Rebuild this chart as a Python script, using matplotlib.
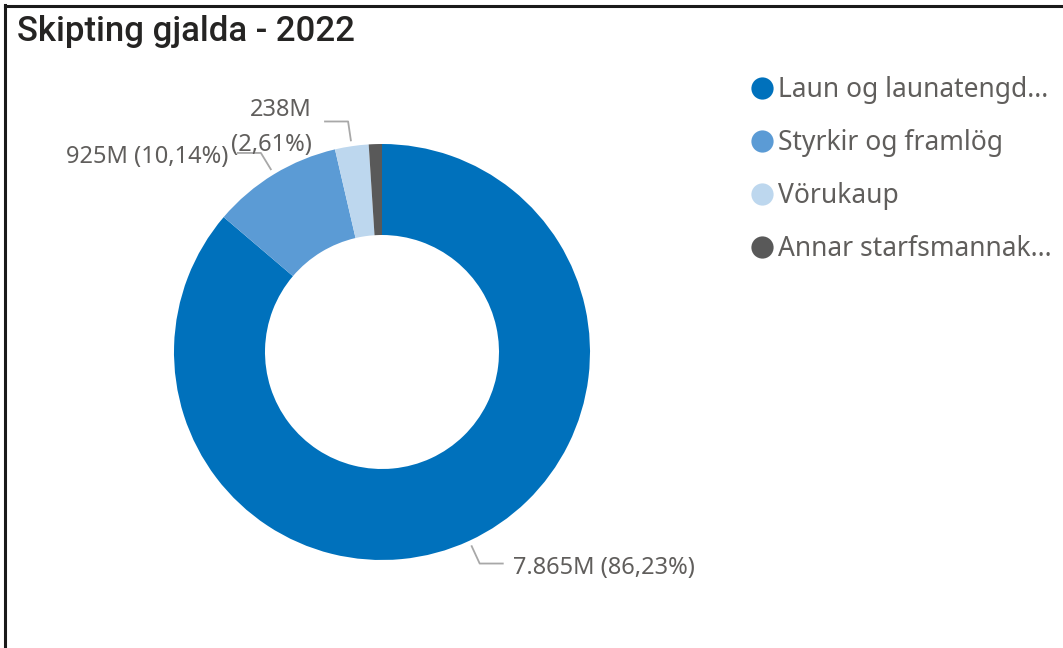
import numpy as np
import matplotlib
matplotlib.use("Agg")
import matplotlib.pyplot as plt
from matplotlib.lines import Line2D

# ---- data ----
categories = ["Laun og launatengd...", "Styrkir og framlög", "Vörukaup", "Annar starfsmannak..."]
values_m = [7865, 925, 238, 93]          # million
percent_labels = ["86,23%", "10,14%", "2,61%", None]
value_labels = ["7.865M", "925M", "238M", None]
colors = ["#0071BC", "#5B9BD5", "#BDD7EE", "#595959"]
title = "Skipting gjalda - 2022"

W, H = 1063, 648
fig = plt.figure(figsize=(W / 100, H / 100), dpi=100)
ax = fig.add_axes([0, 0, 1, 1])

cx, cy = 382, H - 352
R = 208
ring = 91

wedges, _ = ax.pie(values_m, colors=colors, startangle=90, counterclock=False,
                   radius=R, center=(cx, cy), frame=True,
                   wedgeprops=dict(width=ring, linewidth=0))
ax.set_xlim(0, W)
ax.set_ylim(0, H)
ax.set_aspect("equal")
ax.axis("off")

label_font = "Noto Sans"
txt_col = "#605E5C"
line_col = "#A8A8A8"
fs_label = 17

for w, vl, pl in zip(wedges, value_labels, percent_labels):
    if vl is None:
        continue
    ang = np.deg2rad((w.theta1 + w.theta2) / 2)
    x0, y0 = cx + 213 * np.cos(ang), cy + 213 * np.sin(ang)
    x1, y1 = cx + 233 * np.cos(ang), cy + 233 * np.sin(ang)
    side = 1 if np.cos(ang) > 0 else -1
    x2 = x1 + side * 24
    ax.plot([x0, x1, x2], [y0, y1, y1], color=line_col, lw=1.3, solid_capstyle="butt")
    if vl == "238M":
        s = f"{vl}\n({pl})"
        gap = 12
        dy = -6
    else:
        s = f"{vl} ({pl})"
        gap = 9
        dy = -4
    ax.text(x2 + side * gap, y1 + dy, s, ha="left" if side > 0 else "right",
            va="center", multialignment="right", fontsize=fs_label,
            color=txt_col, family=label_font, linespacing=1.6)

# title
fig.text(17 / W, 1 - 31 / H, title, ha="left", va="center", fontsize=25,
         color="#252423", family="Roboto", fontweight="medium")

# border (top and left)
fig.add_artist(Line2D([5 / W, 5 / W], [0, 1 - 5 / H], transform=fig.transFigure,
                      color="#1a1a1a", lw=2.2))
fig.add_artist(Line2D([5 / W, 1], [1 - 6 / H, 1 - 6 / H], transform=fig.transFigure,
                      color="#1a1a1a", lw=2.2))

# legend
fs_leg = 19
handles = [Line2D([], [], marker="o", linestyle="none", markersize=16,
                  markerfacecolor=c, markeredgewidth=0) for c in colors]
leg = ax.legend(handles, categories, loc="upper left",
                bbox_to_anchor=(749, H - 76), bbox_transform=ax.transData,
                frameon=False, borderpad=0, borderaxespad=0,
                handlelength=1.0, handletextpad=0.1, labelspacing=0.95,
                prop=dict(family=label_font, size=fs_leg))
for t in leg.get_texts():
    t.set_color(txt_col)

fig.savefig("out.png", dpi=100, facecolor="white")
